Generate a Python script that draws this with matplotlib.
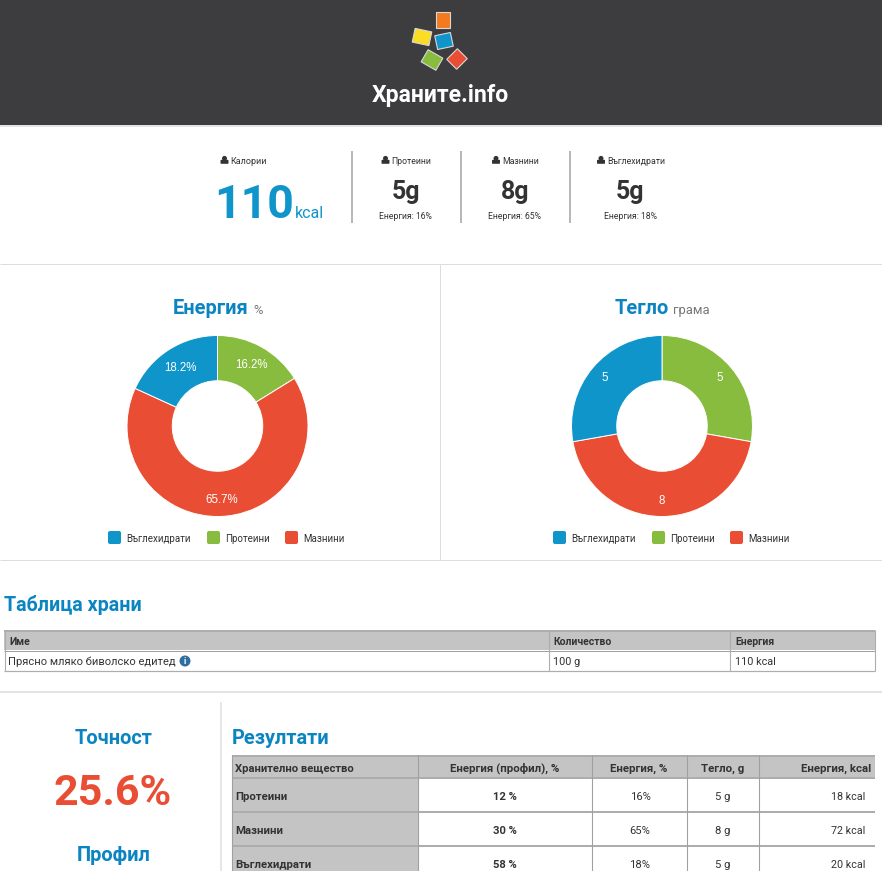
import math
import matplotlib
matplotlib.use("Agg")
import matplotlib.pyplot as plt
from matplotlib.patches import Rectangle, Circle, FancyBboxPatch

W, H = 882, 871

# chart data
pie_labels = ["Въглехидрати", "Протеини", "Мазнини"]
pie_colors = ["#1095ca", "#88bc3f", "#e94e34"]
energy_pct = [16.2, 65.7, 18.2]      # protein, fat, carbs (clockwise from top)
weight_g = [5, 8, 5]
slice_colors = ["#88bc3f", "#e94e34", "#1095ca"]

stat_names = ["Протеини", "Мазнини", "Въглехидрати"]
stat_vals = ["5g", "8g", "5g"]
stat_energy = ["Енергия: 16%", "Енергия: 65%", "Енергия: 18%"]

res_head = ["Хранително вещество", "Енергия (профил), %", "Енергия, %", "Тегло, g", "Енергия, kcal"]
res_names = ["Протеини", "Мазнини", "Въглехидрати"]
res_profile = ["12 %", "30 %", "58 %"]
res_energy = ["16%", "65%", "18%"]
res_weight = ["5 g", "8 g", "5 g"]
res_kcal = ["18 kcal", "72 kcal", "20 kcal"]

BLUE = "#0a85c2"
DARK = "#333333"
GREY = "#c4c4c4"
LINE = "#adadad"

fig = plt.figure(figsize=(W / 100, H / 100), dpi=100, facecolor="white")
ax = fig.add_axes([0, 0, 1, 1])
ax.set_xlim(0, W)
ax.set_ylim(H, 0)
ax.axis("off")


def txt(x, y, s, px, color=DARK, weight="normal", ha="center", va="center_baseline"):
    ax.text(x, y, s, fontsize=px * 0.72, color=color, fontweight=weight, ha=ha,
            va=va, family="Roboto")


def hline(y, x0=0, x1=W, color="#dddddd", lw=1.0):
    ax.plot([x0, x1], [y, y], color=color, lw=lw * 0.72, solid_capstyle="butt")


def vline(x, y0, y1, color="#dddddd", lw=1.0):
    ax.plot([x, x], [y0, y1], color=color, lw=lw * 0.72, solid_capstyle="butt")


def person(x, y):
    ax.add_patch(Circle((x, y - 1.6), 2.5, color="#333333", lw=0))
    ax.add_patch(FancyBboxPatch((x - 3.2, y + 0.6), 6.4, 2.4, boxstyle="round,pad=0.8",
                                color="#333333", lw=0))


# header
ax.add_patch(Rectangle((0, 0), W, 125, color="#3d3d3f", lw=0))
logo = [(443, 20, 14, 16, 0, "#f47a20"), (422, 37, 17, 14, 12, "#fcdc24"), (444, 41, 16, 14, -12, "#1095ca"),
        (432, 60, 17, 14, 30, "#88bc3f"), (457, 59, 15, 14, -45, "#e94e34")]
for cx, cy, w, h, ang, c in logo:
    ax.add_patch(Rectangle((cx - w / 2, cy - h / 2), w, h, angle=ang, rotation_point="center",
                           facecolor=c, edgecolor="#d8d8d8", lw=0.8))
txt(440, 93, "Храните.info", 23, color="white", weight="bold")
hline(126, color="#e4e4e4", lw=2)

# top stats
person(224.5, 160)
txt(230.5, 160, "Калории", 9, ha="left")
txt(294, 218, "110", 46.5, color="#1095ca", weight="bold", ha="right", va="baseline")
txt(295, 218, "kcal", 16, color="#1095ca", ha="left", va="baseline")
for x0 in [352, 461, 570]:
    vline(x0, 151, 223, color="#b5b9bb", lw=2)
for x, ix, tx, n, v, e in zip([405.7, 515, 630], [385.5, 496, 601], [391.5, 502, 607],
                              stat_names, stat_vals, stat_energy):
    person(ix, 160)
    txt(tx, 160, n, 8.8, ha="left")
    txt(x, 190, v, 25, weight="bold")
    txt(x, 215.5, e, 8.7)

# middle panel borders
hline(264)
hline(560)
vline(440, 264, 560)

# pies
txt(210.5, 306, "Енергия", 20, color=BLUE, weight="bold")
txt(258, 309, "%", 13, color="#777777")
txt(642, 306, "Тегло", 20, color=BLUE, weight="bold")
txt(691.5, 309, "грама", 13, color="#777777")


def donut(cx, cy, vals, labels, radii):
    r = 90.5
    pa = fig.add_axes([(cx - r) / W, 1 - (cy + r) / H, 2 * r / W, 2 * r / H])
    wedges, _ = pa.pie(vals, colors=slice_colors, startangle=90, counterclock=False, radius=1,
                       wedgeprops=dict(width=0.5, edgecolor="white", linewidth=0.7))
    pa.set_xlim(-1, 1)
    pa.set_ylim(-1, 1)
    for w, lab, rr in zip(wedges, labels, radii):
        a = math.radians((w.theta1 + w.theta2) / 2)
        pa.text(rr * math.cos(a), rr * math.sin(a), lab, color="white", ha="center", va="center",
                fontsize=8.3, family="Liberation Sans")


donut(217.5, 426, energy_pct, ["16.2%", "65.7%", "18.2%"], [0.77, 0.82, 0.76])
donut(662, 426, weight_g, [str(v) for v in weight_g], [0.83, 0.83, 0.83])

for off in [0, 445]:
    for sx, tx, lab, col in zip([108, 207, 285], [126, 225, 303], pie_labels, pie_colors):
        ax.add_patch(FancyBboxPatch((sx + off + 2, 533), 9, 9, boxstyle="round,pad=2", facecolor=col,
                                    edgecolor="none", lw=0))
        txt(tx + off, 538, lab, 9.8, ha="left")

# food table
txt(4, 603, "Таблица храни", 19.6, color=BLUE, weight="bold", ha="left")
ax.add_patch(Rectangle((4, 630), 871, 20, color=GREY, lw=0))
hline(630.5, 4, 875, LINE, 2)
hline(650.5, 4, 875, "#a0a0a0", 1)
hline(671, 4, 875, LINE, 1.2)
for x in [4.5, 549, 730, 875]:
    vline(x, 630, 671, LINE, 1.1)
txt(9, 640.5, "Име", 10.4, weight="bold", ha="left")
txt(553, 640.5, "Количество", 10.4, weight="bold", ha="left")
txt(735, 640.5, "Енергия", 10.4, weight="bold", ha="left")
txt(8, 661, "Прясно мляко биволско едитед", 11.1, ha="left")
txt(553, 661, "100 g", 10.9, ha="left")
txt(735, 661, "110 kcal", 10.9, ha="left")
ax.add_patch(Circle((185, 661), 5.5, color="#2f6f9f", lw=0))
ax.text(185, 661, "i", color="white", fontsize=6.5, fontweight="bold", ha="center", va="center", family="Roboto")

hline(692, color="#e4e4e4", lw=2)
vline(221, 702, H, color="#e0e0e0", lw=1.5)

# left score column
txt(113.5, 736, "Точност", 20, color=BLUE, weight="bold")
txt(113, 789, "25.6%", 43, color="#e94e34", weight="bold")
txt(113.5, 853, "Профил", 20, color=BLUE, weight="bold")

# results table
txt(232, 736, "Резултати", 20, color=BLUE, weight="bold", ha="left")
cols = [232, 418, 592, 687, 759, 875]
rows = [778, 812, 846, 880]
ax.add_patch(Rectangle((232, 755), 643, 23, color=GREY, lw=0))
ax.add_patch(Rectangle((232, 778), 186, 100, color=GREY, lw=0))
hline(755.5, 232, 875, LINE, 2)
for y in rows[:-1]:
    hline(y, 232, 875, LINE, 2)
for x in cols[:-1]:
    vline(x, 755, H, "#a0a0a0", 1.1)

txt(235, 767.5, res_head[0], 11.3, weight="bold", ha="left")
for i in [1, 2, 3]:
    txt((cols[i] + cols[i + 1]) / 2 - 0.5, 767.5, res_head[i], 11.5, weight="bold")
txt(871, 767.5, res_head[4], 11.5, weight="bold", ha="right")
for i, y in enumerate([795.5, 829.5, 863.5]):
    txt(235, y, res_names[i], 11.4, weight="bold", ha="left")
    txt(505, y, res_profile[i], 11.2, weight="bold")
    txt(640, y, res_energy[i], 11.2)
    txt(723, y, res_weight[i], 11.2)
    txt(865, y, res_kcal[i], 10.8, ha="right")

fig.savefig("out.png", dpi=100)
